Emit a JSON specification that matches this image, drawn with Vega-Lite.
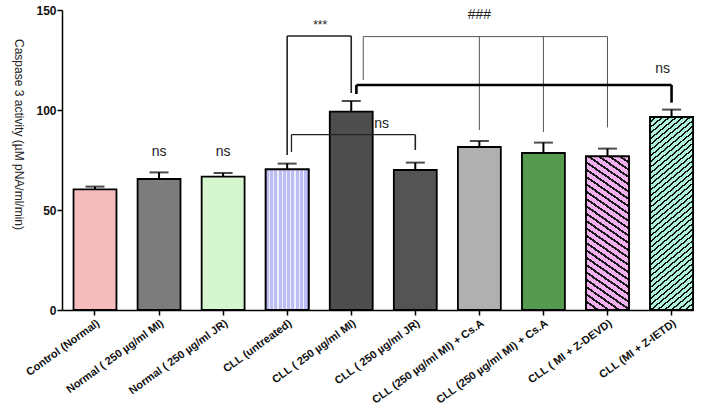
{
  "$schema": "https://vega.github.io/schema/vega-lite/v6.json",
  "width": 631,
  "height": 300,
  "autosize": {"type": "none"},
  "padding": {"left": 62, "top": 10, "right": 15, "bottom": 101},
  "background": "white",
  "config": {
    "view": {"stroke": null},
    "font": "Liberation Sans",
    "axisX": {
      "labelAngle": -36,
      "labelFontSize": 11,
      "labelFontWeight": "bold",
      "labelColor": "#111",
      "labelPadding": 2,
      "tickColor": "black",
      "tickSize": 5,
      "tickWidth": 1.5,
      "domainColor": "black",
      "domainWidth": 1.5,
      "grid": false,
      "labelExpr": "{'c1':'Control (Normal)','c2':'Normal ( 250 µg/ml MI)','c3':'Normal ( 250 µg/ml JR)','c4':'CLL (untreated)','c5':'CLL ( 250 µg/ml MI)','c6':'CLL ( 250 µg/ml JR)','c7':'CLL (250 µg/ml MI) + Cs.A','c8':'CLL (250 µg/ml MI) + Cs.A','c9':'CLL ( MI  + Z-DEVD)','c10':'CLL (MI + Z-IETD)'}[datum.value]"
    },
    "axisY": {
      "tickCount": 3,
      "labelFontSize": 12,
      "labelFontWeight": "bold",
      "labelColor": "#111",
      "labelPadding": 1,
      "tickColor": "black",
      "tickSize": 5,
      "tickWidth": 1.5,
      "domainColor": "black",
      "domainWidth": 1.5,
      "grid": false,
      "titleAngle": 90,
      "titleFont": "Liberation Sans",
      "titleFontSize": 12,
      "titleFontWeight": "normal",
      "titleColor": "#222",
      "titleX": -44,
      "titleY": 124,
      "titleAlign": "center",
      "titleBaseline": "middle"
    }
  },
  "data": {"values": [
    {"id": "c1", "value": 60.3, "upper": 61.7},
    {"id": "c2", "value": 65.5, "upper": 68.8},
    {"id": "c3", "value": 66.7, "upper": 68.5},
    {"id": "c4", "value": 70.3, "upper": 73.2},
    {"id": "c5", "value": 99.2, "upper": 104.5},
    {"id": "c6", "value": 70.0, "upper": 73.7},
    {"id": "c7", "value": 81.5, "upper": 84.5},
    {"id": "c8", "value": 78.5, "upper": 83.7},
    {"id": "c9", "value": 76.8, "upper": 80.7},
    {"id": "c10", "value": 96.5, "upper": 100.2}
  ]},
  "encoding": {
    "x": {"field": "id", "type": "nominal", "sort": null, "title": null,
      "scale": {"domain": ["c1","c2","c3","c4","c5","c6","c7","c8","c9","c10"], "paddingInner": 0.33, "paddingOuter": 0.09, "align": 1}},
    "y": {"field": "value", "type": "quantitative", "stack": null, "title": "Caspase 3 activity (µM pNA/ml/min)",
      "scale": {"domain": [0, 150], "nice": false}}
  },
  "layer": [
    {
      "mark": {"type": "bar", "stroke": "black", "strokeWidth": 1.8},
      "encoding": {
        "fill": {"field": "id", "type": "nominal", "legend": null,
          "scale": {"domain": ["c1","c2","c3","c4","c5","c6","c7","c8","c9","c10"],
            "range": ["#f4bcbc", "#7c7c7c", "#d6f6d0", "#bcbcf4", "#4e4e4e", "#545454", "#b0b0b0", "#559a4e", "#cf8acf", "#8acdb6"]}}
      }
    },
    {
      "transform": [{"filter": "datum.id == 'c4'"}],
      "mark": {"type": "bar", "stroke": "black", "strokeWidth": 1.8,
        "fill": {"gradient": "linear", "x1": 0, "y1": 0, "x2": 1, "y2": 0, "stops": [
          {"offset": 0, "color": "#bdbdf5"}, {"offset": 0.07, "color": "#bdbdf5"}, {"offset": 0.07, "color": "#eeeeff"}, {"offset": 0.1, "color": "#eeeeff"},
          {"offset": 0.1, "color": "#bdbdf5"}, {"offset": 0.17, "color": "#bdbdf5"}, {"offset": 0.17, "color": "#eeeeff"}, {"offset": 0.2, "color": "#eeeeff"},
          {"offset": 0.2, "color": "#bdbdf5"}, {"offset": 0.27, "color": "#bdbdf5"}, {"offset": 0.27, "color": "#eeeeff"}, {"offset": 0.3, "color": "#eeeeff"},
          {"offset": 0.3, "color": "#bdbdf5"}, {"offset": 0.37, "color": "#bdbdf5"}, {"offset": 0.37, "color": "#eeeeff"}, {"offset": 0.4, "color": "#eeeeff"},
          {"offset": 0.4, "color": "#bdbdf5"}, {"offset": 0.47, "color": "#bdbdf5"}, {"offset": 0.47, "color": "#eeeeff"}, {"offset": 0.5, "color": "#eeeeff"},
          {"offset": 0.5, "color": "#bdbdf5"}, {"offset": 0.57, "color": "#bdbdf5"}, {"offset": 0.57, "color": "#eeeeff"}, {"offset": 0.6, "color": "#eeeeff"},
          {"offset": 0.6, "color": "#bdbdf5"}, {"offset": 0.67, "color": "#bdbdf5"}, {"offset": 0.67, "color": "#eeeeff"}, {"offset": 0.7, "color": "#eeeeff"},
          {"offset": 0.7, "color": "#bdbdf5"}, {"offset": 0.77, "color": "#bdbdf5"}, {"offset": 0.77, "color": "#eeeeff"}, {"offset": 0.8, "color": "#eeeeff"},
          {"offset": 0.8, "color": "#bdbdf5"}, {"offset": 0.87, "color": "#bdbdf5"}, {"offset": 0.87, "color": "#eeeeff"}, {"offset": 0.9, "color": "#eeeeff"},
          {"offset": 0.9, "color": "#bdbdf5"}, {"offset": 1, "color": "#bdbdf5"}
        ]}}
    },
    {
      "transform": [{"filter": "datum.id == 'c9'"}],
      "mark": {"type": "bar", "stroke": "black", "strokeWidth": 1.8,
        "fill": {"gradient": "linear", "x1": 1, "y1": 0, "x2": 0.776, "y2": 1.151, "stops": [
          {"offset": 0, "color": "#f3b2ef"}, {"offset": 0.027, "color": "#f3b2ef"}, {"offset": 0.027, "color": "#1a1a1a"}, {"offset": 0.04, "color": "#1a1a1a"},
          {"offset": 0.04, "color": "#f3b2ef"}, {"offset": 0.067, "color": "#f3b2ef"}, {"offset": 0.067, "color": "#1a1a1a"}, {"offset": 0.08, "color": "#1a1a1a"},
          {"offset": 0.08, "color": "#f3b2ef"}, {"offset": 0.107, "color": "#f3b2ef"}, {"offset": 0.107, "color": "#1a1a1a"}, {"offset": 0.12, "color": "#1a1a1a"},
          {"offset": 0.12, "color": "#f3b2ef"}, {"offset": 0.147, "color": "#f3b2ef"}, {"offset": 0.147, "color": "#1a1a1a"}, {"offset": 0.16, "color": "#1a1a1a"},
          {"offset": 0.16, "color": "#f3b2ef"}, {"offset": 0.187, "color": "#f3b2ef"}, {"offset": 0.187, "color": "#1a1a1a"}, {"offset": 0.2, "color": "#1a1a1a"},
          {"offset": 0.2, "color": "#f3b2ef"}, {"offset": 0.227, "color": "#f3b2ef"}, {"offset": 0.227, "color": "#1a1a1a"}, {"offset": 0.24, "color": "#1a1a1a"},
          {"offset": 0.24, "color": "#f3b2ef"}, {"offset": 0.267, "color": "#f3b2ef"}, {"offset": 0.267, "color": "#1a1a1a"}, {"offset": 0.28, "color": "#1a1a1a"},
          {"offset": 0.28, "color": "#f3b2ef"}, {"offset": 0.307, "color": "#f3b2ef"}, {"offset": 0.307, "color": "#1a1a1a"}, {"offset": 0.32, "color": "#1a1a1a"},
          {"offset": 0.32, "color": "#f3b2ef"}, {"offset": 0.347, "color": "#f3b2ef"}, {"offset": 0.347, "color": "#1a1a1a"}, {"offset": 0.36, "color": "#1a1a1a"},
          {"offset": 0.36, "color": "#f3b2ef"}, {"offset": 0.387, "color": "#f3b2ef"}, {"offset": 0.387, "color": "#1a1a1a"}, {"offset": 0.4, "color": "#1a1a1a"},
          {"offset": 0.4, "color": "#f3b2ef"}, {"offset": 0.427, "color": "#f3b2ef"}, {"offset": 0.427, "color": "#1a1a1a"}, {"offset": 0.44, "color": "#1a1a1a"},
          {"offset": 0.44, "color": "#f3b2ef"}, {"offset": 0.467, "color": "#f3b2ef"}, {"offset": 0.467, "color": "#1a1a1a"}, {"offset": 0.48, "color": "#1a1a1a"},
          {"offset": 0.48, "color": "#f3b2ef"}, {"offset": 0.507, "color": "#f3b2ef"}, {"offset": 0.507, "color": "#1a1a1a"}, {"offset": 0.52, "color": "#1a1a1a"},
          {"offset": 0.52, "color": "#f3b2ef"}, {"offset": 0.547, "color": "#f3b2ef"}, {"offset": 0.547, "color": "#1a1a1a"}, {"offset": 0.56, "color": "#1a1a1a"},
          {"offset": 0.56, "color": "#f3b2ef"}, {"offset": 0.587, "color": "#f3b2ef"}, {"offset": 0.587, "color": "#1a1a1a"}, {"offset": 0.6, "color": "#1a1a1a"},
          {"offset": 0.6, "color": "#f3b2ef"}, {"offset": 0.627, "color": "#f3b2ef"}, {"offset": 0.627, "color": "#1a1a1a"}, {"offset": 0.64, "color": "#1a1a1a"},
          {"offset": 0.64, "color": "#f3b2ef"}, {"offset": 0.667, "color": "#f3b2ef"}, {"offset": 0.667, "color": "#1a1a1a"}, {"offset": 0.68, "color": "#1a1a1a"},
          {"offset": 0.68, "color": "#f3b2ef"}, {"offset": 0.707, "color": "#f3b2ef"}, {"offset": 0.707, "color": "#1a1a1a"}, {"offset": 0.72, "color": "#1a1a1a"},
          {"offset": 0.72, "color": "#f3b2ef"}, {"offset": 0.747, "color": "#f3b2ef"}, {"offset": 0.747, "color": "#1a1a1a"}, {"offset": 0.76, "color": "#1a1a1a"},
          {"offset": 0.76, "color": "#f3b2ef"}, {"offset": 0.787, "color": "#f3b2ef"}, {"offset": 0.787, "color": "#1a1a1a"}, {"offset": 0.8, "color": "#1a1a1a"},
          {"offset": 0.8, "color": "#f3b2ef"}, {"offset": 0.827, "color": "#f3b2ef"}, {"offset": 0.827, "color": "#1a1a1a"}, {"offset": 0.84, "color": "#1a1a1a"},
          {"offset": 0.84, "color": "#f3b2ef"}, {"offset": 0.867, "color": "#f3b2ef"}, {"offset": 0.867, "color": "#1a1a1a"}, {"offset": 0.88, "color": "#1a1a1a"},
          {"offset": 0.88, "color": "#f3b2ef"}, {"offset": 0.907, "color": "#f3b2ef"}, {"offset": 0.907, "color": "#1a1a1a"}, {"offset": 0.92, "color": "#1a1a1a"},
          {"offset": 0.92, "color": "#f3b2ef"}, {"offset": 0.947, "color": "#f3b2ef"}, {"offset": 0.947, "color": "#1a1a1a"}, {"offset": 0.96, "color": "#1a1a1a"},
          {"offset": 0.96, "color": "#f3b2ef"}, {"offset": 0.987, "color": "#f3b2ef"}, {"offset": 0.987, "color": "#1a1a1a"}, {"offset": 1, "color": "#1a1a1a"}
        ]}}
    },
    {
      "transform": [{"filter": "datum.id == 'c10'"}],
      "mark": {"type": "bar", "stroke": "black", "strokeWidth": 1.8,
        "fill": {"gradient": "linear", "x1": 0, "y1": 0, "x2": 0.212, "y2": 1.146, "stops": [
          {"offset": 0, "color": "#aef2da"}, {"offset": 0.017, "color": "#aef2da"}, {"offset": 0.017, "color": "#111"}, {"offset": 0.025, "color": "#111"},
          {"offset": 0.025, "color": "#aef2da"}, {"offset": 0.042, "color": "#aef2da"}, {"offset": 0.042, "color": "#111"}, {"offset": 0.05, "color": "#111"},
          {"offset": 0.05, "color": "#aef2da"}, {"offset": 0.067, "color": "#aef2da"}, {"offset": 0.067, "color": "#111"}, {"offset": 0.075, "color": "#111"},
          {"offset": 0.075, "color": "#aef2da"}, {"offset": 0.092, "color": "#aef2da"}, {"offset": 0.092, "color": "#111"}, {"offset": 0.1, "color": "#111"},
          {"offset": 0.1, "color": "#aef2da"}, {"offset": 0.117, "color": "#aef2da"}, {"offset": 0.117, "color": "#111"}, {"offset": 0.125, "color": "#111"},
          {"offset": 0.125, "color": "#aef2da"}, {"offset": 0.142, "color": "#aef2da"}, {"offset": 0.142, "color": "#111"}, {"offset": 0.15, "color": "#111"},
          {"offset": 0.15, "color": "#aef2da"}, {"offset": 0.167, "color": "#aef2da"}, {"offset": 0.167, "color": "#111"}, {"offset": 0.175, "color": "#111"},
          {"offset": 0.175, "color": "#aef2da"}, {"offset": 0.192, "color": "#aef2da"}, {"offset": 0.192, "color": "#111"}, {"offset": 0.2, "color": "#111"},
          {"offset": 0.2, "color": "#aef2da"}, {"offset": 0.217, "color": "#aef2da"}, {"offset": 0.217, "color": "#111"}, {"offset": 0.225, "color": "#111"},
          {"offset": 0.225, "color": "#aef2da"}, {"offset": 0.242, "color": "#aef2da"}, {"offset": 0.242, "color": "#111"}, {"offset": 0.25, "color": "#111"},
          {"offset": 0.25, "color": "#aef2da"}, {"offset": 0.267, "color": "#aef2da"}, {"offset": 0.267, "color": "#111"}, {"offset": 0.275, "color": "#111"},
          {"offset": 0.275, "color": "#aef2da"}, {"offset": 0.292, "color": "#aef2da"}, {"offset": 0.292, "color": "#111"}, {"offset": 0.3, "color": "#111"},
          {"offset": 0.3, "color": "#aef2da"}, {"offset": 0.317, "color": "#aef2da"}, {"offset": 0.317, "color": "#111"}, {"offset": 0.325, "color": "#111"},
          {"offset": 0.325, "color": "#aef2da"}, {"offset": 0.342, "color": "#aef2da"}, {"offset": 0.342, "color": "#111"}, {"offset": 0.35, "color": "#111"},
          {"offset": 0.35, "color": "#aef2da"}, {"offset": 0.367, "color": "#aef2da"}, {"offset": 0.367, "color": "#111"}, {"offset": 0.375, "color": "#111"},
          {"offset": 0.375, "color": "#aef2da"}, {"offset": 0.392, "color": "#aef2da"}, {"offset": 0.392, "color": "#111"}, {"offset": 0.4, "color": "#111"},
          {"offset": 0.4, "color": "#aef2da"}, {"offset": 0.417, "color": "#aef2da"}, {"offset": 0.417, "color": "#111"}, {"offset": 0.425, "color": "#111"},
          {"offset": 0.425, "color": "#aef2da"}, {"offset": 0.442, "color": "#aef2da"}, {"offset": 0.442, "color": "#111"}, {"offset": 0.45, "color": "#111"},
          {"offset": 0.45, "color": "#aef2da"}, {"offset": 0.467, "color": "#aef2da"}, {"offset": 0.467, "color": "#111"}, {"offset": 0.475, "color": "#111"},
          {"offset": 0.475, "color": "#aef2da"}, {"offset": 0.492, "color": "#aef2da"}, {"offset": 0.492, "color": "#111"}, {"offset": 0.5, "color": "#111"},
          {"offset": 0.5, "color": "#aef2da"}, {"offset": 0.517, "color": "#aef2da"}, {"offset": 0.517, "color": "#111"}, {"offset": 0.525, "color": "#111"},
          {"offset": 0.525, "color": "#aef2da"}, {"offset": 0.542, "color": "#aef2da"}, {"offset": 0.542, "color": "#111"}, {"offset": 0.55, "color": "#111"},
          {"offset": 0.55, "color": "#aef2da"}, {"offset": 0.567, "color": "#aef2da"}, {"offset": 0.567, "color": "#111"}, {"offset": 0.575, "color": "#111"},
          {"offset": 0.575, "color": "#aef2da"}, {"offset": 0.592, "color": "#aef2da"}, {"offset": 0.592, "color": "#111"}, {"offset": 0.6, "color": "#111"},
          {"offset": 0.6, "color": "#aef2da"}, {"offset": 0.617, "color": "#aef2da"}, {"offset": 0.617, "color": "#111"}, {"offset": 0.625, "color": "#111"},
          {"offset": 0.625, "color": "#aef2da"}, {"offset": 0.642, "color": "#aef2da"}, {"offset": 0.642, "color": "#111"}, {"offset": 0.65, "color": "#111"},
          {"offset": 0.65, "color": "#aef2da"}, {"offset": 0.667, "color": "#aef2da"}, {"offset": 0.667, "color": "#111"}, {"offset": 0.675, "color": "#111"},
          {"offset": 0.675, "color": "#aef2da"}, {"offset": 0.692, "color": "#aef2da"}, {"offset": 0.692, "color": "#111"}, {"offset": 0.7, "color": "#111"},
          {"offset": 0.7, "color": "#aef2da"}, {"offset": 0.717, "color": "#aef2da"}, {"offset": 0.717, "color": "#111"}, {"offset": 0.725, "color": "#111"},
          {"offset": 0.725, "color": "#aef2da"}, {"offset": 0.742, "color": "#aef2da"}, {"offset": 0.742, "color": "#111"}, {"offset": 0.75, "color": "#111"},
          {"offset": 0.75, "color": "#aef2da"}, {"offset": 0.767, "color": "#aef2da"}, {"offset": 0.767, "color": "#111"}, {"offset": 0.775, "color": "#111"},
          {"offset": 0.775, "color": "#aef2da"}, {"offset": 0.792, "color": "#aef2da"}, {"offset": 0.792, "color": "#111"}, {"offset": 0.8, "color": "#111"},
          {"offset": 0.8, "color": "#aef2da"}, {"offset": 0.817, "color": "#aef2da"}, {"offset": 0.817, "color": "#111"}, {"offset": 0.825, "color": "#111"},
          {"offset": 0.825, "color": "#aef2da"}, {"offset": 0.842, "color": "#aef2da"}, {"offset": 0.842, "color": "#111"}, {"offset": 0.85, "color": "#111"},
          {"offset": 0.85, "color": "#aef2da"}, {"offset": 0.867, "color": "#aef2da"}, {"offset": 0.867, "color": "#111"}, {"offset": 0.875, "color": "#111"},
          {"offset": 0.875, "color": "#aef2da"}, {"offset": 0.892, "color": "#aef2da"}, {"offset": 0.892, "color": "#111"}, {"offset": 0.9, "color": "#111"},
          {"offset": 0.9, "color": "#aef2da"}, {"offset": 0.917, "color": "#aef2da"}, {"offset": 0.917, "color": "#111"}, {"offset": 0.925, "color": "#111"},
          {"offset": 0.925, "color": "#aef2da"}, {"offset": 0.942, "color": "#aef2da"}, {"offset": 0.942, "color": "#111"}, {"offset": 0.95, "color": "#111"},
          {"offset": 0.95, "color": "#aef2da"}, {"offset": 0.967, "color": "#aef2da"}, {"offset": 0.967, "color": "#111"}, {"offset": 0.975, "color": "#111"},
          {"offset": 0.975, "color": "#aef2da"}, {"offset": 0.992, "color": "#aef2da"}, {"offset": 0.992, "color": "#111"}, {"offset": 1, "color": "#111"}
        ]}}
    },
    {
      "mark": {"type": "rule", "color": "black", "strokeWidth": 2},
      "encoding": {"y2": {"field": "upper"}}
    },
    {
      "mark": {"type": "tick", "color": "black", "thickness": 2, "size": 19},
      "encoding": {"y": {"field": "upper", "type": "quantitative", "title": "Caspase 3 activity (µM pNA/ml/min)", "scale": {"domain": [0, 150], "nice": false}}}
    },
    {
      "data": {"values": [
        {"id": "c4", "y": 77.5, "y2": 137},
        {"id": "c5", "y": 108.5, "y2": 137},
        {"id": "c6", "y": 80, "y2": 87.7}
      ]},
      "mark": {"type": "rule", "color": "#222", "strokeWidth": 1.6},
      "encoding": {
        "y": {"field": "y", "type": "quantitative", "title": "Caspase 3 activity (µM pNA/ml/min)", "scale": {"domain": [0, 150], "nice": false}},
        "y2": {"field": "y2"}
      }
    },
    {
      "data": {"values": [{"id": "c4", "id2": "c5", "y": 137}]},
      "mark": {"type": "rule", "color": "#222", "strokeWidth": 1.6},
      "encoding": {
        "x2": {"field": "id2"},
        "y": {"field": "y", "type": "quantitative", "title": "Caspase 3 activity (µM pNA/ml/min)", "scale": {"domain": [0, 150], "nice": false}}
      }
    },
    {
      "data": {"values": [{"id": "c4", "y": 79, "y2": 87.7}]},
      "mark": {"type": "rule", "color": "#222", "strokeWidth": 1.3},
      "encoding": {
        "x": {"field": "id", "type": "nominal", "sort": null, "title": null, "bandPosition": 0.6,
          "scale": {"domain": ["c1","c2","c3","c4","c5","c6","c7","c8","c9","c10"]}},
        "y": {"field": "y", "type": "quantitative", "title": "Caspase 3 activity (µM pNA/ml/min)", "scale": {"domain": [0, 150], "nice": false}},
        "y2": {"field": "y2"}
      }
    },
    {
      "data": {"values": [{"id": "c4", "id2": "c6", "y": 87.7}]},
      "mark": {"type": "rule", "color": "#222", "strokeWidth": 1.3},
      "encoding": {
        "x": {"field": "id", "type": "nominal", "sort": null, "title": null, "bandPosition": 0.6,
          "scale": {"domain": ["c1","c2","c3","c4","c5","c6","c7","c8","c9","c10"]}},
        "x2": {"field": "id2"},
        "y": {"field": "y", "type": "quantitative", "title": "Caspase 3 activity (µM pNA/ml/min)", "scale": {"domain": [0, 150], "nice": false}}
      }
    },
    {
      "data": {"values": [
        {"id": "c7", "y": 90, "y2": 136.7},
        {"id": "c8", "y": 89, "y2": 136.7},
        {"id": "c9", "y": 91.3, "y2": 136.7}
      ]},
      "mark": {"type": "rule", "color": "#555", "strokeWidth": 1},
      "encoding": {
        "y": {"field": "y", "type": "quantitative", "title": "Caspase 3 activity (µM pNA/ml/min)", "scale": {"domain": [0, 150], "nice": false}},
        "y2": {"field": "y2"}
      }
    },
    {
      "data": {"values": [{"id": "c5", "y": 115, "y2": 136.7}]},
      "mark": {"type": "rule", "color": "#555", "strokeWidth": 1},
      "encoding": {
        "x": {"field": "id", "type": "nominal", "sort": null, "title": null, "bandPosition": 0.78,
          "scale": {"domain": ["c1","c2","c3","c4","c5","c6","c7","c8","c9","c10"]}},
        "y": {"field": "y", "type": "quantitative", "title": "Caspase 3 activity (µM pNA/ml/min)", "scale": {"domain": [0, 150], "nice": false}},
        "y2": {"field": "y2"}
      }
    },
    {
      "data": {"values": [{"id": "c5", "id2": "c9", "y": 136.7}]},
      "mark": {"type": "rule", "color": "#555", "strokeWidth": 1},
      "encoding": {
        "x": {"field": "id", "type": "nominal", "sort": null, "title": null, "bandPosition": 0.78,
          "scale": {"domain": ["c1","c2","c3","c4","c5","c6","c7","c8","c9","c10"]}},
        "x2": {"field": "id2"},
        "y": {"field": "y", "type": "quantitative", "title": "Caspase 3 activity (µM pNA/ml/min)", "scale": {"domain": [0, 150], "nice": false}}
      }
    },
    {
      "data": {"values": [{"id": "c5", "y": 108, "y2": 112.5}]},
      "mark": {"type": "rule", "color": "black", "strokeWidth": 2.6},
      "encoding": {
        "x": {"field": "id", "type": "nominal", "sort": null, "title": null, "bandPosition": 0.62,
          "scale": {"domain": ["c1","c2","c3","c4","c5","c6","c7","c8","c9","c10"]}},
        "y": {"field": "y", "type": "quantitative", "title": "Caspase 3 activity (µM pNA/ml/min)", "scale": {"domain": [0, 150], "nice": false}},
        "y2": {"field": "y2"}
      }
    },
    {
      "data": {"values": [{"id": "c5", "id2": "c10", "y": 112.5}]},
      "mark": {"type": "rule", "color": "black", "strokeWidth": 2.6},
      "encoding": {
        "x": {"field": "id", "type": "nominal", "sort": null, "title": null, "bandPosition": 0.62,
          "scale": {"domain": ["c1","c2","c3","c4","c5","c6","c7","c8","c9","c10"]}},
        "x2": {"field": "id2"},
        "y": {"field": "y", "type": "quantitative", "title": "Caspase 3 activity (µM pNA/ml/min)", "scale": {"domain": [0, 150], "nice": false}}
      }
    },
    {
      "data": {"values": [{"id": "c10", "y": 103.7, "y2": 112.5}]},
      "mark": {"type": "rule", "color": "black", "strokeWidth": 2.6},
      "encoding": {
        "y": {"field": "y", "type": "quantitative", "title": "Caspase 3 activity (µM pNA/ml/min)", "scale": {"domain": [0, 150], "nice": false}},
        "y2": {"field": "y2"}
      }
    },
    {
      "data": {"values": [
        {"id": "c2", "y": 79, "t": "ns"},
        {"id": "c3", "y": 79, "t": "ns"},
        {"id": "c7", "y": 147.5, "t": "###"}
      ]},
      "mark": {"type": "text", "fontSize": 14, "color": "#222", "baseline": "middle", "align": "center"},
      "encoding": {
        "y": {"field": "y", "type": "quantitative", "title": "Caspase 3 activity (µM pNA/ml/min)", "scale": {"domain": [0, 150], "nice": false}},
        "text": {"field": "t"}
      }
    },
    {
      "data": {"values": [{"id": "c4", "y": 142.5, "t": "***"}]},
      "mark": {"type": "text", "fontSize": 12, "color": "#222", "baseline": "middle", "align": "center", "dx": 33},
      "encoding": {
        "y": {"field": "y", "type": "quantitative", "title": "Caspase 3 activity (µM pNA/ml/min)", "scale": {"domain": [0, 150], "nice": false}},
        "text": {"field": "t"}
      }
    },
    {
      "data": {"values": [{"id": "c5", "y": 93, "t": "ns"}]},
      "mark": {"type": "text", "fontSize": 14, "color": "#222", "baseline": "middle", "align": "left", "dx": 23},
      "encoding": {
        "y": {"field": "y", "type": "quantitative", "title": "Caspase 3 activity (µM pNA/ml/min)", "scale": {"domain": [0, 150], "nice": false}},
        "text": {"field": "t"}
      }
    },
    {
      "data": {"values": [{"id": "c10", "y": 120.5, "t": "ns"}]},
      "mark": {"type": "text", "fontSize": 14, "color": "#222", "baseline": "middle", "align": "center", "dx": -9},
      "encoding": {
        "y": {"field": "y", "type": "quantitative", "title": "Caspase 3 activity (µM pNA/ml/min)", "scale": {"domain": [0, 150], "nice": false}},
        "text": {"field": "t"}
      }
    }
  ]
}
